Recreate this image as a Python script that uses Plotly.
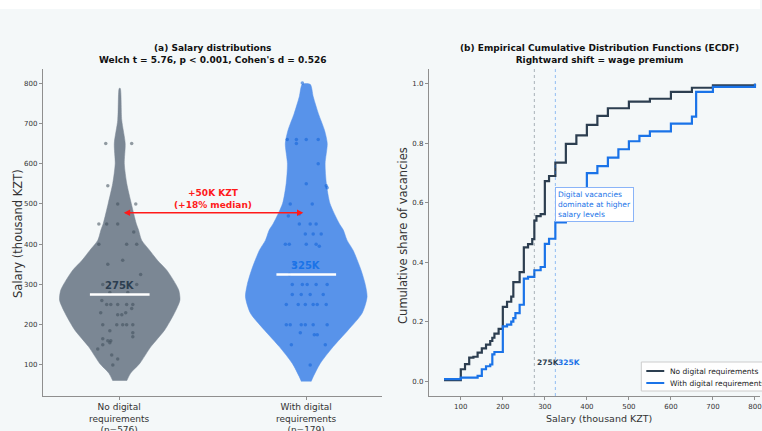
import plotly.graph_objects as go

# ---------------- data ----------------
categories = ["No digital<br>requirements<br>(n=576)", "With digital<br>requirements<br>(n=179)"]
legend_names = ["No digital requirements", "With digital requirements"]
medians = [275, 325]
median_labels = ["275K", "325K"]

# violin density profiles: salary level (thousand KZT) and relative half-width
nd_levels = [61, 80, 104, 145, 187, 229, 261, 286, 310, 336, 360, 385, 410, 435, 452, 501, 551, 600, 650, 708, 787]
nd_density = [0.115, 0.18, 0.33, 0.51, 0.74, 0.90, 0.99, 0.97, 0.885, 0.77, 0.62, 0.49, 0.36, 0.31, 0.27, 0.19,
              0.115, 0.075, 0.09, 0.033, 0.008]
wd_levels = [59, 71, 104, 145, 187, 229, 269, 300, 336, 385, 410, 435, 452, 501, 551, 600, 650, 683, 724, 766, 797]
wd_density = [0.08, 0.115, 0.23, 0.44, 0.69, 0.92, 1.0, 0.97, 0.90, 0.77, 0.67, 0.61, 0.54, 0.39, 0.33, 0.31,
              0.345, 0.30, 0.20, 0.115, 0.065]

# individual vacancies shown as jittered points (salary, jitter)
nd_pts_salary = [650, 650, 545, 500, 500, 450, 450, 450, 430, 400, 400, 400, 360, 350, 325, 300, 300, 280, 280,
                 260, 250, 250, 250, 250, 250, 230, 225, 225, 230, 240, 200, 200, 200, 200, 200, 185, 180, 170,
                 165, 160, 160, 155, 150, 140, 125, 115, 100]
nd_pts_jitter = [-0.075, 0.064, -0.064, -0.011, 0.086, -0.112, -0.07, -0.011, 0.075, -0.112, 0.037, 0.091, 0.016,
                 -0.064, 0.112, -0.091, 0.091, -0.053, 0.043, -0.096, -0.07, -0.048, -0.011, 0.037, 0.07, -0.102,
                 -0.011, 0.011, 0.032, 0.064, -0.091, -0.016, 0.016, 0.037, 0.07, -0.053, 0.07, 0.07, -0.091,
                 -0.064, -0.048, -0.053, -0.091, -0.118, -0.043, -0.011, -0.037]
wd_pts_salary = [800, 660, 660, 660, 660, 650, 600, 550, 545, 540, 500, 500, 470, 475, 450, 450, 450, 425, 425, 425,
                 400, 400, 400, 400, 395, 350, 325, 300, 300, 300, 300, 300, 275, 275, 275, 275, 250, 250, 250, 250,
                 250, 250, 200, 200, 200, 200, 200, 200, 180, 175, 175, 150, 150, 100]
wd_pts_jitter = [-0.021, -0.102, -0.053, 0.0, 0.064, -0.053, 0.064, 0.0, 0.107, 0.112, -0.086, 0.032, -0.096, -0.037,
                 -0.037, 0.021, 0.053, -0.005, 0.037, 0.08, -0.112, -0.091, 0.0, 0.053, 0.07, -0.064, -0.091, -0.075,
                 -0.021, 0.005, 0.053, 0.112, -0.075, -0.027, 0.021, 0.091, -0.107, -0.043, -0.005, 0.037, 0.059,
                 0.107, -0.107, -0.086, -0.027, -0.005, 0.037, 0.112, -0.032, 0.043, 0.059, -0.08, 0.102, 0.021]

# ECDF step points
nd_ecdf_x = [60, 100, 110, 120, 130, 140, 150, 160, 170, 175, 180, 190, 200, 210, 220, 225, 240, 250, 260, 270,
             275, 280, 290, 300, 310, 325, 350, 375, 400, 425, 450, 500, 550, 600, 650, 700, 800]
nd_ecdf_y = [0.003, 0.04, 0.057, 0.079, 0.082, 0.096, 0.11, 0.123, 0.135, 0.146, 0.16, 0.176, 0.25, 0.267, 0.284,
             0.333, 0.367, 0.45, 0.461, 0.478, 0.54, 0.555, 0.562, 0.673, 0.69, 0.735, 0.798, 0.827, 0.862, 0.892,
             0.918, 0.94, 0.95, 0.973, 0.987, 0.995, 1.0]
wd_ecdf_x = [60, 100, 140, 150, 160, 170, 175, 180, 200, 210, 220, 225, 230, 240, 250, 260, 275, 290, 300, 310,
             325, 350, 400, 425, 450, 475, 500, 525, 550, 600, 650, 660, 700, 800]
wd_ecdf_y = [0.007, 0.012, 0.018, 0.04, 0.05, 0.056, 0.09, 0.098, 0.184, 0.19, 0.2, 0.212, 0.229, 0.257, 0.345,
             0.351, 0.373, 0.384, 0.462, 0.479, 0.534, 0.545, 0.70, 0.723, 0.752, 0.78, 0.807, 0.825, 0.84, 0.866,
             0.89, 0.973, 0.99, 1.0]

# ---------------- styling ----------------
W, H = 762, 431
BG = "#f4f8f9"
DARK = "#2c3e50"
BLUE = "#1a73e8"
DARK_BODY = "#7b8794"
BLUE_BODY = "#5893ea"
FONT = "DejaVu Sans"
VHALF = 0.326  # max violin half-width in category units
SPINE = "#8f8f8f"


def px_x(v):
    return v / W


def px_y(v):
    return (H - v) / H


fig = go.Figure()

# violins
for pos, levels, dens, col in [(0, nd_levels, nd_density, DARK_BODY), (1, wd_levels, wd_density, BLUE_BODY)]:
    xs = [pos + d * VHALF for d in dens] + [pos - d * VHALF for d in reversed(dens)]
    ys = list(levels) + list(reversed(levels))
    fig.add_trace(go.Scatter(x=xs, y=ys, mode="lines", fill="toself", fillcolor=col,
                             line=dict(color=col, width=0.5, shape="spline", smoothing=0.7),
                             showlegend=False, hoverinfo="skip", xaxis="x", yaxis="y"))

# jittered points
fig.add_trace(go.Scatter(x=[0 + j for j in nd_pts_jitter], y=nd_pts_salary, mode="markers",
                         marker=dict(color="#3e4c5a", size=3.5, opacity=0.55), showlegend=False,
                         xaxis="x", yaxis="y"))
fig.add_trace(go.Scatter(x=[1 + j for j in wd_pts_jitter], y=wd_pts_salary, mode="markers",
                         marker=dict(color="#1565d8", size=3.5, opacity=0.6), showlegend=False,
                         xaxis="x", yaxis="y"))

# median lines
for pos, med in zip([0, 1], medians):
    fig.add_trace(go.Scatter(x=[pos - 0.16, pos + 0.16], y=[med, med], mode="lines",
                             line=dict(color="white", width=2.5), showlegend=False, hoverinfo="skip",
                             xaxis="x", yaxis="y"))

# ECDF
fig.add_trace(go.Scatter(x=nd_ecdf_x, y=nd_ecdf_y, mode="lines", line=dict(color=DARK, width=2.2, shape="hv"),
                         name=legend_names[0], showlegend=False, xaxis="x2", yaxis="y2"))
fig.add_trace(go.Scatter(x=wd_ecdf_x, y=wd_ecdf_y, mode="lines", line=dict(color=BLUE, width=2.2, shape="hv"),
                         name=legend_names[1], showlegend=False, xaxis="x2", yaxis="y2"))

ydom = [px_y(396), px_y(69)]
axis_common = dict(showline=True, linecolor=SPINE, linewidth=1.2, ticks="outside", ticklen=3,
                   tickcolor=SPINE, showgrid=False, zeroline=False,
                   tickfont=dict(family=FONT, size=7, color="#333333"))

fig.update_layout(
    width=W, height=H,
    margin=dict(l=0, r=0, t=0, b=0),
    paper_bgcolor=BG, plot_bgcolor=BG,
    font=dict(family=FONT, color="#222222"),
    xaxis=dict(domain=[px_x(43), px_x(383)], range=[-0.412, 1.406], tickvals=[0, 1],
               showticklabels=False, anchor="y", **axis_common),
    yaxis=dict(domain=ydom, range=[23, 835], tickvals=[100, 200, 300, 400, 500, 600, 700, 800],
               anchor="x", **axis_common),
    xaxis2=dict(domain=[px_x(430), 1.0], range=[24, 812], tickvals=[100, 200, 300, 400, 500, 600, 700, 800],
                anchor="y2", ticklabeloverflow="allow", **axis_common),
    yaxis2=dict(domain=ydom, range=[-0.05, 1.05], tickvals=[0, 0.2, 0.4, 0.6, 0.8, 1.0],
                ticktext=["0.0", "0.2", "0.4", "0.6", "0.8", "1.0"], anchor="x2", **axis_common),
    showlegend=False,
)

shapes = []
# white strip along the top edge
shapes.append(dict(type="rect", xref="paper", yref="paper", x0=0, x1=1, y0=px_y(9), y1=1,
                   fillcolor="white", line=dict(width=0), layer="below"))
# dotted median lines on ECDF
for med, col in zip(medians, ["rgba(44,62,80,0.38)", "rgba(26,115,232,0.45)"]):
    shapes.append(dict(type="line", xref="x2", yref="y2 domain", x0=med, x1=med, y0=0, y1=1,
                       line=dict(color=col, width=1, dash="dot")))
# legend box
shapes.append(dict(type="rect", xref="paper", yref="paper", x0=px_x(643), x1=1.02, y0=px_y(391), y1=px_y(362),
                   fillcolor="rgba(255,255,255,0.85)", line=dict(color="#cccccc", width=1)))
for yy, col in zip([371, 383], [DARK, BLUE]):
    shapes.append(dict(type="line", xref="paper", yref="paper", x0=px_x(648), x1=px_x(666), y0=px_y(yy),
                       y1=px_y(yy), line=dict(color=col, width=2)))

ann = []
ann.append(dict(xref="paper", yref="paper", x=px_x(213), y=px_y(54.5), xanchor="center", yanchor="middle",
                showarrow=False,
                text="<b>(a) Salary distributions<br>Welch t = 5.76, p &lt; 0.001, Cohen's d = 0.526</b>",
                font=dict(family=FONT, size=9, color="#111111")))
ann.append(dict(xref="paper", yref="paper", x=px_x(601), y=px_y(54.5), xanchor="center", yanchor="middle",
                showarrow=False,
                text="<b>(b) Empirical Cumulative Distribution Functions (ECDF)<br>Rightward shift = wage premium</b>",
                font=dict(family=FONT, size=9, color="#111111")))
# category labels under the violins
for pos, lab in zip([0, 1], categories):
    ann.append(dict(xref="x", yref="paper", x=pos, y=px_y(400), xanchor="center", yanchor="top",
                    showarrow=False, text=lab, font=dict(family=FONT, size=9, color="#333333")))
for pos, med, lab, col in zip([0, 1], medians, median_labels, [DARK, BLUE]):
    ann.append(dict(xref="x", yref="y", x=pos, y=med, yshift=9, xanchor="center", showarrow=False,
                    text="<b>" + lab + "</b>", font=dict(family=FONT, size=10, color=col)))
ann.append(dict(xref="x", yref="y", axref="x", ayref="y", x=0.984, y=478, ax=0.014, ay=478, text="",
                showarrow=True, arrowhead=2, arrowside="end+start", arrowsize=0.9, arrowwidth=1.4,
                arrowcolor="#ff1a1a", standoff=0, startstandoff=0))
ann.append(dict(xref="x", yref="y", x=0.5, y=511, xanchor="center", showarrow=False,
                text="<b>+50K KZT<br>(+18% median)</b>", font=dict(family=FONT, size=9, color="#ff1a1a")))
for med, lab, col in zip(medians, median_labels, [DARK, BLUE]):
    ann.append(dict(xref="x2", yref="y2", x=med + 2, y=0.063, xanchor="left", showarrow=False,
                    text="<b>" + lab + "</b>", font=dict(family=FONT, size=7.5, color=col)))
ann.append(dict(xref="x2", yref="y2", x=325, y=0.593, xanchor="left", yanchor="middle", align="left",
                showarrow=False, text="Digital vacancies<br>dominate at higher<br>salary levels",
                font=dict(family=FONT, size=7.5, color=BLUE), bgcolor="white", bordercolor="#8ab4f8",
                borderwidth=1, borderpad=2))
for yy, name in zip([371, 383], legend_names):
    ann.append(dict(xref="paper", yref="paper", x=px_x(670), y=px_y(yy), xanchor="left", yanchor="middle",
                    showarrow=False, text=name, font=dict(family=FONT, size=7.5, color="#222222")))
ann.append(dict(xref="paper", yref="paper", x=px_x(18), y=px_y(233), xanchor="center", yanchor="middle",
                textangle=-90, showarrow=False, text="Salary (thousand KZT)",
                font=dict(family=FONT, size=11.5, color="#333333")))
ann.append(dict(xref="paper", yref="paper", x=px_x(404), y=px_y(235), xanchor="center", yanchor="middle",
                textangle=-90, showarrow=False, text="Cumulative share of vacancies",
                font=dict(family=FONT, size=11.5, color="#333333")))
ann.append(dict(xref="paper", yref="paper", x=px_x(601), y=px_y(418), xanchor="center", yanchor="middle",
                showarrow=False, text="Salary (thousand KZT)", font=dict(family=FONT, size=9.5, color="#333333")))

fig.update_layout(shapes=shapes, annotations=ann)

page_fix = (
    "document.documentElement.style.margin='0';document.body.style.margin='0';"
    "document.documentElement.style.overflow='hidden';document.body.style.overflow='hidden';"
)
fig.write_html("out.html", config={"responsive": False, "displayModeBar": False}, post_script=page_fix)
